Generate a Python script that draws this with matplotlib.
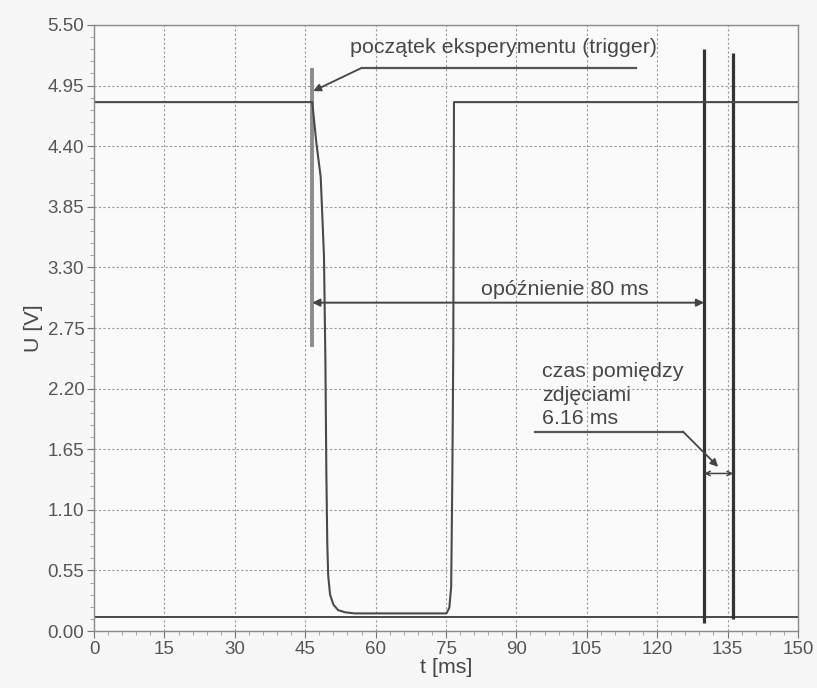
import numpy as np
import matplotlib.pyplot as plt
from matplotlib.ticker import MultipleLocator, FormatStrFormatter

plt.rcParams['font.family'] = ['Liberation Sans', 'DejaVu Sans']

# ==========================================================
# DATA
# ==========================================================

# supply / sensor signal [ms], [V]
sig_t = [0, 46.5, 47.4, 48.3, 49.0, 49.3, 49.5, 49.7, 49.9, 50.3, 51.0, 52.0, 53.5, 55.5,
         75.1, 75.7, 76.1, 76.35, 76.55, 76.7, 150]
sig_u = [4.80, 4.80, 4.42, 4.12, 3.40, 2.45, 1.45, 0.80, 0.50, 0.33, 0.24, 0.19, 0.17, 0.16,
         0.16, 0.21, 0.40, 1.40, 2.56, 4.80, 4.80]

# camera trigger line
cam_t = [0, 150]
cam_u = [0.125, 0.125]

spike_t = [130.0, 136.2]
spike_top = [5.28, 5.25]
spike_bot = [0.07, 0.11]

# experiment start marker
trig_t = 46.5
trig_u = [2.58, 5.11]

delay_u = 2.98
gap_u = 1.43

czas_lines = ['czas pomiędzy', 'zdjęciami', '6.16 ms']
czas_y = [2.355, 2.14, 1.93]

# ==========================================================
# PLOT
# ==========================================================

fig = plt.figure(figsize=(8.17, 6.88), dpi=100, facecolor='#f7f7f7')
ax = fig.add_axes([0.1151, 0.0828, 0.8616, 0.8809])
ax.set_facecolor('#fafafa')

txt = '#474747'
fs = 15.4

ax.plot(cam_t, cam_u, color='#4a4a4a', lw=1.4)
ax.vlines(spike_t, spike_bot, spike_top, color='#333333', lw=2.3)
ax.vlines(trig_t, trig_u[0], trig_u[1], color='#8c8c8c', lw=2.8)
ax.plot(sig_t, sig_u, color='#4a4a4a', lw=1.5)

# trigger annotation
ax.plot([115.5, 57.0], [5.11, 5.11], color='#555555', lw=1.6)
ax.annotate('', xy=(46.7, 4.90), xytext=(57.0, 5.11),
            arrowprops=dict(arrowstyle='-|>', color='#444444', lw=1.3,
                            mutation_scale=11, shrinkA=0, shrinkB=0))
ax.text(54.5, 5.30, 'początek eksperymentu (trigger)', fontsize=fs,
        color=txt, va='center', ha='left')

# delay
ax.annotate('', xy=(spike_t[0], delay_u), xytext=(trig_t, delay_u),
            arrowprops=dict(arrowstyle='<|-|>', color='#444444', lw=1.4,
                            mutation_scale=11, shrinkA=0, shrinkB=0))
ax.text(100.4, 3.10, 'opóźnienie 80 ms', fontsize=fs, color=txt,
        ha='center', va='center')

# time between frames
ax.annotate('', xy=(spike_t[1], gap_u), xytext=(spike_t[0], gap_u),
            arrowprops=dict(arrowstyle='<->', color='#444444', lw=1.1,
                            mutation_scale=8, shrinkA=0, shrinkB=0))
ax.plot([94.0, 125.5], [1.81, 1.81], color='#555555', lw=1.6)
ax.annotate('', xy=(133.0, 1.49), xytext=(125.5, 1.81),
            arrowprops=dict(arrowstyle='-|>', color='#444444', lw=1.3,
                            mutation_scale=11, shrinkA=0, shrinkB=0))
for line, yy in zip(czas_lines, czas_y):
    ax.text(95.4, yy, line, fontsize=fs, color=txt, ha='left', va='center')

ax.set_xlim(0, 150)
ax.set_ylim(0, 5.5)
ax.xaxis.set_major_locator(MultipleLocator(15))
ax.xaxis.set_minor_locator(MultipleLocator(3))
ax.yaxis.set_major_locator(MultipleLocator(0.55))
ax.yaxis.set_minor_locator(MultipleLocator(0.11))
ax.yaxis.set_major_formatter(FormatStrFormatter('%.2f'))

ax.grid(True, which='major', color='#9a9a9a', ls=(0, (2, 2)), lw=0.8)
ax.tick_params(which='major', length=5, color='#777777', labelsize=13.5,
               labelcolor='#555555', pad=2)
ax.tick_params(which='minor', length=3, color='#999999')
for s in ax.spines.values():
    s.set_color('#8a8a8a')
    s.set_linewidth(1.0)

ax.set_xlabel('t [ms]', fontsize=fs, color=txt, labelpad=0)
ax.set_ylabel('U [V]', fontsize=fs, color=txt)
ax.yaxis.set_label_coords(-0.072, 0.5)

fig.savefig('out.png', dpi=100, facecolor=fig.get_facecolor())
